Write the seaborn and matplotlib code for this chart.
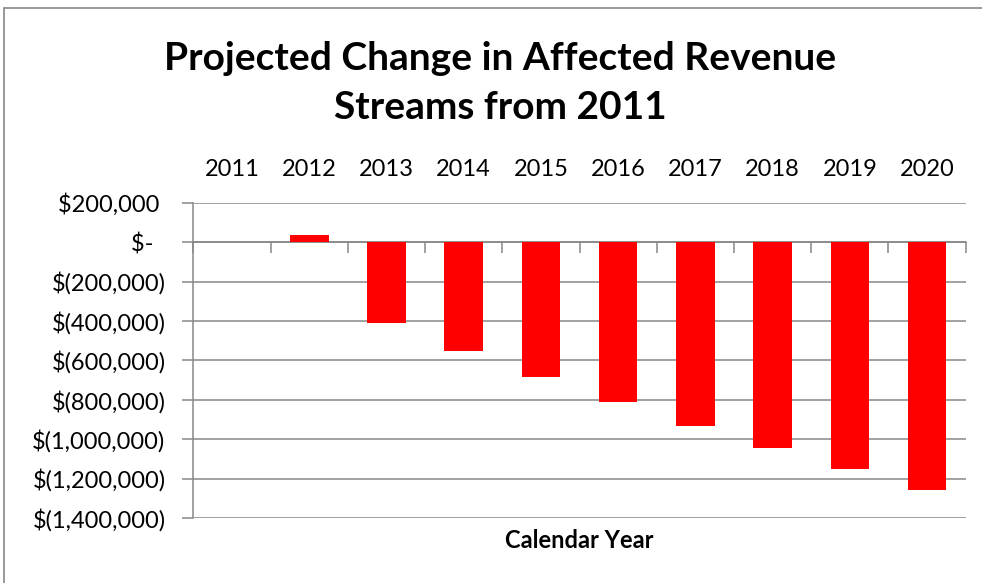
import matplotlib
matplotlib.use("Agg")
import matplotlib.pyplot as plt
from matplotlib.lines import Line2D
from matplotlib.ticker import FuncFormatter, FixedLocator
import seaborn as sns
import pandas as pd

# Calendar years and projected change in affected revenue (USD, vs. 2011)
years = ["2011", "2012", "2013", "2014", "2015", "2016", "2017", "2018", "2019", "2020"]
change = [0, 34000, -412000, -552000, -686000, -812000, -934000, -1047000, -1153000, -1258000]
y_ticks = [200000, 0, -200000, -400000, -600000, -800000, -1000000, -1200000, -1400000]

title_text = "Projected Change in Affected Revenue\nStreams from 2011"
x_title = "Calendar Year"

df = pd.DataFrame({"year": years, "change": change})

sns.set_theme(style="white")
plt.rcParams["font.family"] = ["Lato", "DejaVu Sans"]

GRAY = "#888888"
W, H = 982, 583
NBSP = "\u00a0"

fig = plt.figure(figsize=(W / 100, H / 100), dpi=100)
ax = fig.add_axes([0.1969, 0.1115, 0.7865, 0.5408])

sns.barplot(data=df, x="year", y="change", color="#ff0000", width=0.5,
            saturation=1, ax=ax, zorder=3)
for p in ax.patches:
    p.set_linewidth(0)

ax.set_xlim(-0.5, len(years) - 0.5)
ax.set_ylim(-1400000, 200000)


def accounting(v, _pos):
    # accounting style: zero as a dash, negatives in parentheses
    if abs(v) < 1:
        return "$-" + NBSP * 2
    if v < 0:
        return "$({:,.0f})".format(-v)
    return "${:,.0f}".format(v) + NBSP


ax.yaxis.set_major_locator(FixedLocator(y_ticks))
ax.yaxis.set_major_formatter(FuncFormatter(accounting))
ax.tick_params(axis="y", which="major", left=True, direction="out", length=8,
               width=1.1, color=GRAY, pad=12, labelsize=17, labelcolor="black")
ax.grid(axis="y", color=GRAY, linewidth=1.1, zorder=1)
ax.grid(axis="x", visible=False)

# Category labels above the plot; boundary ticks hang below the zero line
ax.xaxis.set_minor_locator(FixedLocator([i - 0.5 for i in range(len(years) + 1)]))
ax.tick_params(axis="x", which="major", bottom=False, top=False,
               labelbottom=False, labeltop=True, labelsize=17, pad=10,
               labelcolor="black")
ax.tick_params(axis="x", which="minor", bottom=True, top=False, direction="out",
               length=8, width=1.1, color=GRAY)
ax.spines["bottom"].set_position(("data", 0))
ax.spines["bottom"].set_color(GRAY)
ax.spines["bottom"].set_linewidth(1.1)
ax.spines["left"].set_color(GRAY)
ax.spines["left"].set_linewidth(1.1)
ax.spines["top"].set_visible(False)
ax.spines["right"].set_visible(False)

ax.set_xlabel("")
ax.set_ylabel("")
fig.text(579.5 / W, 1 - 540 / H, x_title, ha="center", va="center",
         fontsize=17, fontweight="bold", color="black")

fig.text(500 / W, 1 - 83 / H, title_text, ha="center", va="center", fontsize=28,
         fontweight="bold", color="black", linespacing=1.5)

# Chart-area frame
fig.add_artist(Line2D([4 / W, 1.0], [1 - 7.5 / H, 1 - 7.5 / H],
                      transform=fig.transFigure, color=GRAY, linewidth=1.2))
fig.add_artist(Line2D([4 / W, 4 / W], [0.0, 1 - 7.5 / H],
                      transform=fig.transFigure, color=GRAY, linewidth=1.2))

fig.savefig("out.png", dpi=100, facecolor="white")
